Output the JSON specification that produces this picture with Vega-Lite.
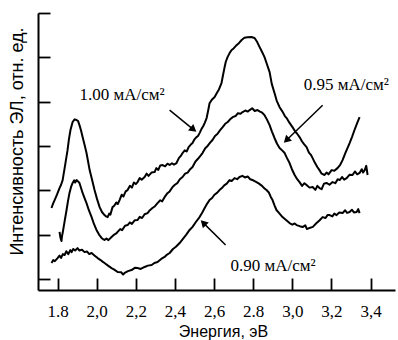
{
"$schema":"https://vega.github.io/schema/vega-lite/v6.json",
"width":357,"height":277,
"autosize":{"type":"none"},
"padding":{"left":38,"top":13,"right":3,"bottom":50},
"background":"white",
"config":{"view":{"stroke":null},"axis":{"grid":false}},
"datasets":{
"arrows":[{"a":"1.00","x":2.373,"y":8.12,"x2":2.495,"y2":7.24},{"a":"0.95","x":3.155,"y":8.34,"x2":2.970,"y2":6.76},{"a":"0.90","x":2.659,"y":2.03,"x2":2.545,"y2":3.03}],
"labels":[{"t":"1.00 мА/см²","x":1.912,"y":8.80},{"t":"0.95 мА/см²","x":3.058,"y":9.25},{"t":"0.90 мА/см²","x":2.684,"y":1.08}]
},
"data":{"values":[
{"s":"1.00","e":1.769,"i":3.70},{"s":"1.00","e":1.777,"i":3.90},{"s":"1.00","e":1.785,"i":4.06},{"s":"1.00","e":1.797,"i":4.30},{"s":"1.00","e":1.810,"i":4.60},{"s":"1.00","e":1.818,"i":4.75},{"s":"1.00","e":1.826,"i":4.96},{"s":"1.00","e":1.838,"i":5.60},{"s":"1.00","e":1.851,"i":6.31},{"s":"1.00","e":1.858,"i":6.80},{"s":"1.00","e":1.866,"i":7.22},{"s":"1.00","e":1.877,"i":7.58},{"s":"1.00","e":1.887,"i":7.70},{"s":"1.00","e":1.897,"i":7.67},{"s":"1.00","e":1.905,"i":7.62},{"s":"1.00","e":1.912,"i":7.44},{"s":"1.00","e":1.920,"i":7.20},{"s":"1.00","e":1.928,"i":6.90},{"s":"1.00","e":1.938,"i":6.55},{"s":"1.00","e":1.948,"i":6.18},{"s":"1.00","e":1.956,"i":5.80},{"s":"1.00","e":1.964,"i":5.41},{"s":"1.00","e":1.977,"i":4.95},{"s":"1.00","e":1.989,"i":4.51},{"s":"1.00","e":2.002,"i":4.10},{"s":"1.00","e":2.015,"i":3.74},{"s":"1.00","e":2.027,"i":3.52},{"s":"1.00","e":2.040,"i":3.38},{"s":"1.00","e":2.048,"i":3.32},{"s":"1.00","e":2.056,"i":3.29},{"s":"1.00","e":2.064,"i":3.45},{"s":"1.00","e":2.070,"i":3.40},{"s":"1.00","e":2.081,"i":3.74},{"s":"1.00","e":2.090,"i":3.80},{"s":"1.00","e":2.100,"i":3.95},{"s":"1.00","e":2.108,"i":3.88},{"s":"1.00","e":2.117,"i":4.06},{"s":"1.00","e":2.128,"i":4.30},{"s":"1.00","e":2.137,"i":4.22},{"s":"1.00","e":2.148,"i":4.45},{"s":"1.00","e":2.158,"i":4.51},{"s":"1.00","e":2.170,"i":4.70},{"s":"1.00","e":2.180,"i":4.62},{"s":"1.00","e":2.190,"i":4.85},{"s":"1.00","e":2.200,"i":4.78},{"s":"1.00","e":2.209,"i":4.87},{"s":"1.00","e":2.220,"i":5.05},{"s":"1.00","e":2.230,"i":4.98},{"s":"1.00","e":2.245,"i":5.10},{"s":"1.00","e":2.255,"i":5.25},{"s":"1.00","e":2.265,"i":5.15},{"s":"1.00","e":2.280,"i":5.30},{"s":"1.00","e":2.296,"i":5.32},{"s":"1.00","e":2.305,"i":5.50},{"s":"1.00","e":2.315,"i":5.42},{"s":"1.00","e":2.325,"i":5.62},{"s":"1.00","e":2.337,"i":5.64},{"s":"1.00","e":2.350,"i":5.58},{"s":"1.00","e":2.362,"i":5.70},{"s":"1.00","e":2.373,"i":5.64},{"s":"1.00","e":2.385,"i":5.72},{"s":"1.00","e":2.395,"i":5.66},{"s":"1.00","e":2.408,"i":5.73},{"s":"1.00","e":2.420,"i":5.95},{"s":"1.00","e":2.430,"i":6.05},{"s":"1.00","e":2.439,"i":6.18},{"s":"1.00","e":2.450,"i":6.30},{"s":"1.00","e":2.460,"i":6.25},{"s":"1.00","e":2.470,"i":6.45},{"s":"1.00","e":2.480,"i":6.55},{"s":"1.00","e":2.490,"i":6.63},{"s":"1.00","e":2.500,"i":6.80},{"s":"1.00","e":2.510,"i":6.90},{"s":"1.00","e":2.518,"i":6.95},{"s":"1.00","e":2.526,"i":7.08},{"s":"1.00","e":2.535,"i":7.25},{"s":"1.00","e":2.545,"i":7.40},{"s":"1.00","e":2.553,"i":7.55},{"s":"1.00","e":2.562,"i":7.76},{"s":"1.00","e":2.570,"i":8.10},{"s":"1.00","e":2.577,"i":8.43},{"s":"1.00","e":2.590,"i":8.60},{"s":"1.00","e":2.603,"i":8.71},{"s":"1.00","e":2.615,"i":8.90},{"s":"1.00","e":2.625,"i":9.05},{"s":"1.00","e":2.638,"i":9.34},{"s":"1.00","e":2.646,"i":9.70},{"s":"1.00","e":2.654,"i":10.06},{"s":"1.00","e":2.660,"i":10.30},{"s":"1.00","e":2.669,"i":10.51},{"s":"1.00","e":2.680,"i":10.70},{"s":"1.00","e":2.690,"i":10.83},{"s":"1.00","e":2.700,"i":10.90},{"s":"1.00","e":2.715,"i":11.05},{"s":"1.00","e":2.728,"i":11.15},{"s":"1.00","e":2.741,"i":11.28},{"s":"1.00","e":2.755,"i":11.38},{"s":"1.00","e":2.771,"i":11.41},{"s":"1.00","e":2.790,"i":11.42},{"s":"1.00","e":2.807,"i":11.37},{"s":"1.00","e":2.820,"i":11.20},{"s":"1.00","e":2.833,"i":10.96},{"s":"1.00","e":2.845,"i":10.75},{"s":"1.00","e":2.858,"i":10.51},{"s":"1.00","e":2.870,"i":10.20},{"s":"1.00","e":2.884,"i":9.83},{"s":"1.00","e":2.895,"i":9.30},{"s":"1.00","e":2.909,"i":8.89},{"s":"1.00","e":2.920,"i":8.55},{"s":"1.00","e":2.935,"i":8.25},{"s":"1.00","e":2.950,"i":8.05},{"s":"1.00","e":2.962,"i":7.85},{"s":"1.00","e":2.971,"i":7.76},{"s":"1.00","e":2.985,"i":7.55},{"s":"1.00","e":3.001,"i":7.35},{"s":"1.00","e":3.015,"i":7.15},{"s":"1.00","e":3.025,"i":7.05},{"s":"1.00","e":3.037,"i":6.90},{"s":"1.00","e":3.050,"i":6.70},{"s":"1.00","e":3.060,"i":6.58},{"s":"1.00","e":3.073,"i":6.45},{"s":"1.00","e":3.085,"i":6.20},{"s":"1.00","e":3.095,"i":6.10},{"s":"1.00","e":3.104,"i":5.95},{"s":"1.00","e":3.115,"i":5.75},{"s":"1.00","e":3.128,"i":5.55},{"s":"1.00","e":3.139,"i":5.41},{"s":"1.00","e":3.150,"i":5.25},{"s":"1.00","e":3.165,"i":5.19},{"s":"1.00","e":3.175,"i":5.30},{"s":"1.00","e":3.185,"i":5.22},{"s":"1.00","e":3.201,"i":5.41},{"s":"1.00","e":3.215,"i":5.38},{"s":"1.00","e":3.231,"i":5.50},{"s":"1.00","e":3.245,"i":5.65},{"s":"1.00","e":3.257,"i":5.86},{"s":"1.00","e":3.270,"i":6.15},{"s":"1.00","e":3.282,"i":6.40},{"s":"1.00","e":3.293,"i":6.63},{"s":"1.00","e":3.305,"i":6.90},{"s":"1.00","e":3.318,"i":7.22},{"s":"1.00","e":3.330,"i":7.50},{"s":"1.00","e":3.344,"i":7.80},
{"s":"0.95","e":1.810,"i":2.62},{"s":"0.95","e":1.815,"i":2.35},{"s":"0.95","e":1.820,"i":2.21},{"s":"0.95","e":1.823,"i":2.45},{"s":"0.95","e":1.826,"i":2.57},{"s":"0.95","e":1.836,"i":3.10},{"s":"0.95","e":1.846,"i":3.61},{"s":"0.95","e":1.853,"i":4.00},{"s":"0.95","e":1.861,"i":4.38},{"s":"0.95","e":1.869,"i":4.65},{"s":"0.95","e":1.877,"i":4.83},{"s":"0.95","e":1.885,"i":4.95},{"s":"0.95","e":1.890,"i":4.85},{"s":"0.95","e":1.897,"i":4.96},{"s":"0.95","e":1.905,"i":4.90},{"s":"0.95","e":1.912,"i":4.83},{"s":"0.95","e":1.920,"i":4.60},{"s":"0.95","e":1.928,"i":4.38},{"s":"0.95","e":1.938,"i":4.15},{"s":"0.95","e":1.948,"i":3.92},{"s":"0.95","e":1.960,"i":3.60},{"s":"0.95","e":1.974,"i":3.29},{"s":"0.95","e":1.986,"i":2.98},{"s":"0.95","e":1.999,"i":2.71},{"s":"0.95","e":2.012,"i":2.50},{"s":"0.95","e":2.025,"i":2.35},{"s":"0.95","e":2.032,"i":2.30},{"s":"0.95","e":2.040,"i":2.26},{"s":"0.95","e":2.050,"i":2.32},{"s":"0.95","e":2.060,"i":2.25},{"s":"0.95","e":2.076,"i":2.39},{"s":"0.95","e":2.090,"i":2.50},{"s":"0.95","e":2.100,"i":2.55},{"s":"0.95","e":2.107,"i":2.62},{"s":"0.95","e":2.120,"i":2.75},{"s":"0.95","e":2.130,"i":2.70},{"s":"0.95","e":2.145,"i":2.90},{"s":"0.95","e":2.158,"i":2.93},{"s":"0.95","e":2.170,"i":3.05},{"s":"0.95","e":2.180,"i":2.98},{"s":"0.95","e":2.195,"i":3.15},{"s":"0.95","e":2.209,"i":3.16},{"s":"0.95","e":2.220,"i":3.30},{"s":"0.95","e":2.232,"i":3.25},{"s":"0.95","e":2.245,"i":3.42},{"s":"0.95","e":2.260,"i":3.47},{"s":"0.95","e":2.272,"i":3.60},{"s":"0.95","e":2.285,"i":3.70},{"s":"0.95","e":2.298,"i":3.78},{"s":"0.95","e":2.311,"i":3.92},{"s":"0.95","e":2.325,"i":4.05},{"s":"0.95","e":2.335,"i":4.00},{"s":"0.95","e":2.347,"i":4.19},{"s":"0.95","e":2.360,"i":4.35},{"s":"0.95","e":2.373,"i":4.45},{"s":"0.95","e":2.388,"i":4.65},{"s":"0.95","e":2.400,"i":4.75},{"s":"0.95","e":2.412,"i":4.82},{"s":"0.95","e":2.425,"i":5.00},{"s":"0.95","e":2.439,"i":5.10},{"s":"0.95","e":2.452,"i":5.25},{"s":"0.95","e":2.465,"i":5.30},{"s":"0.95","e":2.478,"i":5.45},{"s":"0.95","e":2.490,"i":5.55},{"s":"0.95","e":2.505,"i":5.80},{"s":"0.95","e":2.518,"i":5.92},{"s":"0.95","e":2.530,"i":6.05},{"s":"0.95","e":2.541,"i":6.18},{"s":"0.95","e":2.555,"i":6.40},{"s":"0.95","e":2.567,"i":6.50},{"s":"0.95","e":2.580,"i":6.65},{"s":"0.95","e":2.592,"i":6.77},{"s":"0.95","e":2.605,"i":6.95},{"s":"0.95","e":2.618,"i":7.05},{"s":"0.95","e":2.630,"i":7.20},{"s":"0.95","e":2.644,"i":7.35},{"s":"0.95","e":2.657,"i":7.50},{"s":"0.95","e":2.670,"i":7.58},{"s":"0.95","e":2.682,"i":7.70},{"s":"0.95","e":2.695,"i":7.80},{"s":"0.95","e":2.710,"i":7.85},{"s":"0.95","e":2.722,"i":7.98},{"s":"0.95","e":2.735,"i":7.95},{"s":"0.95","e":2.746,"i":8.03},{"s":"0.95","e":2.760,"i":8.10},{"s":"0.95","e":2.772,"i":8.05},{"s":"0.95","e":2.782,"i":8.12},{"s":"0.95","e":2.795,"i":8.20},{"s":"0.95","e":2.808,"i":8.08},{"s":"0.95","e":2.822,"i":8.12},{"s":"0.95","e":2.835,"i":8.05},{"s":"0.95","e":2.846,"i":8.00},{"s":"0.95","e":2.858,"i":7.89},{"s":"0.95","e":2.870,"i":7.70},{"s":"0.95","e":2.884,"i":7.44},{"s":"0.95","e":2.896,"i":7.15},{"s":"0.95","e":2.909,"i":6.86},{"s":"0.95","e":2.922,"i":6.60},{"s":"0.95","e":2.935,"i":6.41},{"s":"0.95","e":2.948,"i":6.30},{"s":"0.95","e":2.961,"i":6.18},{"s":"0.95","e":2.973,"i":5.95},{"s":"0.95","e":2.986,"i":5.73},{"s":"0.95","e":2.998,"i":5.45},{"s":"0.95","e":3.012,"i":5.19},{"s":"0.95","e":3.025,"i":5.00},{"s":"0.95","e":3.037,"i":4.87},{"s":"0.95","e":3.050,"i":4.70},{"s":"0.95","e":3.062,"i":4.82},{"s":"0.95","e":3.073,"i":4.74},{"s":"0.95","e":3.088,"i":4.62},{"s":"0.95","e":3.104,"i":4.65},{"s":"0.95","e":3.118,"i":4.52},{"s":"0.95","e":3.128,"i":4.70},{"s":"0.95","e":3.139,"i":4.60},{"s":"0.95","e":3.150,"i":4.55},{"s":"0.95","e":3.162,"i":4.80},{"s":"0.95","e":3.175,"i":4.83},{"s":"0.95","e":3.190,"i":4.75},{"s":"0.95","e":3.206,"i":4.87},{"s":"0.95","e":3.220,"i":4.82},{"s":"0.95","e":3.232,"i":5.00},{"s":"0.95","e":3.242,"i":4.96},{"s":"0.95","e":3.255,"i":5.10},{"s":"0.95","e":3.265,"i":4.98},{"s":"0.95","e":3.278,"i":5.05},{"s":"0.95","e":3.292,"i":5.20},{"s":"0.95","e":3.308,"i":5.19},{"s":"0.95","e":3.320,"i":5.35},{"s":"0.95","e":3.332,"i":5.22},{"s":"0.95","e":3.344,"i":5.28},{"s":"0.95","e":3.355,"i":5.45},{"s":"0.95","e":3.362,"i":5.30},{"s":"0.95","e":3.370,"i":5.41},{"s":"0.95","e":3.378,"i":5.60},{"s":"0.95","e":3.385,"i":5.19},
{"s":"0.90","e":1.769,"i":1.22},{"s":"0.90","e":1.778,"i":1.35},{"s":"0.90","e":1.786,"i":1.30},{"s":"0.90","e":1.800,"i":1.44},{"s":"0.90","e":1.810,"i":1.55},{"s":"0.90","e":1.818,"i":1.45},{"s":"0.90","e":1.827,"i":1.62},{"s":"0.90","e":1.836,"i":1.58},{"s":"0.90","e":1.845,"i":1.75},{"s":"0.90","e":1.855,"i":1.62},{"s":"0.90","e":1.865,"i":1.80},{"s":"0.90","e":1.872,"i":1.71},{"s":"0.90","e":1.880,"i":1.85},{"s":"0.90","e":1.890,"i":1.78},{"s":"0.90","e":1.902,"i":1.89},{"s":"0.90","e":1.912,"i":1.78},{"s":"0.90","e":1.925,"i":1.82},{"s":"0.90","e":1.938,"i":1.71},{"s":"0.90","e":1.950,"i":1.74},{"s":"0.90","e":1.962,"i":1.62},{"s":"0.90","e":1.974,"i":1.67},{"s":"0.90","e":1.990,"i":1.55},{"s":"0.90","e":2.005,"i":1.44},{"s":"0.90","e":2.020,"i":1.35},{"s":"0.90","e":2.030,"i":1.28},{"s":"0.90","e":2.040,"i":1.22},{"s":"0.90","e":2.058,"i":1.10},{"s":"0.90","e":2.076,"i":0.99},{"s":"0.90","e":2.090,"i":0.92},{"s":"0.90","e":2.107,"i":0.81},{"s":"0.90","e":2.125,"i":0.80},{"s":"0.90","e":2.135,"i":0.70},{"s":"0.90","e":2.143,"i":0.77},{"s":"0.90","e":2.160,"i":0.85},{"s":"0.90","e":2.178,"i":0.90},{"s":"0.90","e":2.195,"i":1.00},{"s":"0.90","e":2.209,"i":0.99},{"s":"0.90","e":2.225,"i":0.95},{"s":"0.90","e":2.245,"i":1.04},{"s":"0.90","e":2.262,"i":1.10},{"s":"0.90","e":2.281,"i":1.13},{"s":"0.90","e":2.295,"i":1.22},{"s":"0.90","e":2.311,"i":1.26},{"s":"0.90","e":2.330,"i":1.40},{"s":"0.90","e":2.347,"i":1.49},{"s":"0.90","e":2.360,"i":1.60},{"s":"0.90","e":2.373,"i":1.67},{"s":"0.90","e":2.390,"i":1.85},{"s":"0.90","e":2.405,"i":1.95},{"s":"0.90","e":2.424,"i":2.12},{"s":"0.90","e":2.440,"i":2.30},{"s":"0.90","e":2.458,"i":2.50},{"s":"0.90","e":2.475,"i":2.71},{"s":"0.90","e":2.490,"i":2.85},{"s":"0.90","e":2.508,"i":3.08},{"s":"0.90","e":2.526,"i":3.29},{"s":"0.90","e":2.540,"i":3.50},{"s":"0.90","e":2.552,"i":3.70},{"s":"0.90","e":2.565,"i":3.90},{"s":"0.90","e":2.577,"i":4.06},{"s":"0.90","e":2.590,"i":4.15},{"s":"0.90","e":2.602,"i":4.30},{"s":"0.90","e":2.615,"i":4.38},{"s":"0.90","e":2.628,"i":4.51},{"s":"0.90","e":2.640,"i":4.60},{"s":"0.90","e":2.652,"i":4.72},{"s":"0.90","e":2.665,"i":4.80},{"s":"0.90","e":2.679,"i":4.96},{"s":"0.90","e":2.690,"i":4.92},{"s":"0.90","e":2.705,"i":5.05},{"s":"0.90","e":2.718,"i":5.00},{"s":"0.90","e":2.730,"i":5.10},{"s":"0.90","e":2.745,"i":5.15},{"s":"0.90","e":2.758,"i":5.08},{"s":"0.90","e":2.772,"i":5.12},{"s":"0.90","e":2.785,"i":5.00},{"s":"0.90","e":2.800,"i":4.95},{"s":"0.90","e":2.817,"i":4.87},{"s":"0.90","e":2.830,"i":4.80},{"s":"0.90","e":2.845,"i":4.70},{"s":"0.90","e":2.858,"i":4.58},{"s":"0.90","e":2.868,"i":4.51},{"s":"0.90","e":2.880,"i":4.40},{"s":"0.90","e":2.890,"i":4.20},{"s":"0.90","e":2.899,"i":4.06},{"s":"0.90","e":2.909,"i":3.82},{"s":"0.90","e":2.919,"i":3.61},{"s":"0.90","e":2.935,"i":3.45},{"s":"0.90","e":2.950,"i":3.29},{"s":"0.90","e":2.965,"i":3.18},{"s":"0.90","e":2.986,"i":3.02},{"s":"0.90","e":3.000,"i":2.95},{"s":"0.90","e":3.012,"i":3.00},{"s":"0.90","e":3.022,"i":2.93},{"s":"0.90","e":3.038,"i":2.88},{"s":"0.90","e":3.053,"i":2.84},{"s":"0.90","e":3.066,"i":2.92},{"s":"0.90","e":3.075,"i":2.75},{"s":"0.90","e":3.088,"i":2.80},{"s":"0.90","e":3.105,"i":2.85},{"s":"0.90","e":3.124,"i":3.02},{"s":"0.90","e":3.140,"i":3.15},{"s":"0.90","e":3.155,"i":3.29},{"s":"0.90","e":3.170,"i":3.25},{"s":"0.90","e":3.180,"i":3.38},{"s":"0.90","e":3.191,"i":3.38},{"s":"0.90","e":3.205,"i":3.32},{"s":"0.90","e":3.215,"i":3.45},{"s":"0.90","e":3.226,"i":3.38},{"s":"0.90","e":3.240,"i":3.50},{"s":"0.90","e":3.257,"i":3.47},{"s":"0.90","e":3.270,"i":3.60},{"s":"0.90","e":3.280,"i":3.48},{"s":"0.90","e":3.293,"i":3.52},{"s":"0.90","e":3.305,"i":3.62},{"s":"0.90","e":3.315,"i":3.50},{"s":"0.90","e":3.329,"i":3.52},{"s":"0.90","e":3.337,"i":3.65},{"s":"0.90","e":3.344,"i":3.47}
]},
"layer":[
{"mark":{"type":"line","color":"black","strokeWidth":2,"strokeJoin":"round"},
 "encoding":{
  "x":{"field":"e","type":"quantitative","scale":{"domain":[1.7,3.525],"nice":false,"zero":false},
   "axis":{"orient":"bottom","title":"Энергия, эВ","values":[1.8,1.9,2.0,2.1,2.2,2.3,2.4,2.5,2.6,2.7,2.8,2.9,3.0,3.1,3.2,3.3,3.4,3.5],
    "labelExpr":"round(datum.value*10)%2==1 ? '' : (round(datum.value*10)==18 ? '1.8' : (round(datum.value*10)==28 ? '2.8' : replace(format(datum.value,'.1f'),'.',',')))",
    "tickSize":{"condition":{"test":"round(datum.value*10)%2==0","value":-12},"value":-6},
    "tickWidth":1.8,"tickColor":"black","domainColor":"black","domainWidth":2,
    "labelFont":"Liberation Serif","labelFontSize":17,"labelColor":"black","labelPadding":25,"labelFlush":false,"labelOverlap":false,
    "titleFont":"Liberation Sans","titleFontSize":16,"titleFontWeight":"normal","titleColor":"black","titleX":185,"titleY":41,"titleBaseline":"middle"}},
  "y":{"field":"i","type":"quantitative","scale":{"domain":[0,12.5],"nice":false,"zero":false},
   "axis":{"orient":"left","title":"Интенсивность ЭЛ, отн. ед.","values":[0.5,1.5,2.5,3.5,4.5,5.5,6.5,7.5,8.5,9.5,10.5,11.5,12.5],"labels":false,
    "tickSize":{"condition":{"test":"floor(datum.value)%2==0","value":-12},"value":-6},
    "tickWidth":1.8,"tickColor":"black","domainColor":"black","domainWidth":2,
    "titleFont":"Liberation Sans","titleFontSize":18,"titleFontWeight":"normal","titleColor":"black","titleX":-21,"titleY":128,"titleBaseline":"middle","titleAngle":-90,"titleAlign":"center"}},
  "detail":{"field":"s"}
 }},
{"data":{"name":"arrows"},"mark":{"type":"rule","color":"black","strokeWidth":1.5},
 "encoding":{"x":{"field":"x","type":"quantitative"},"y":{"field":"y","type":"quantitative"},"x2":{"field":"x2"},"y2":{"field":"y2"}}},
{"data":{"name":"arrows"},"transform":[{"filter":"datum.a=='1.00'"}],"mark":{"type":"point","shape":"triangle-up","filled":true,"color":"black","opacity":1,"size":70,"angle":129},
 "encoding":{"x":{"field":"x2","type":"quantitative"},"y":{"field":"y2","type":"quantitative"}}},
{"data":{"name":"arrows"},"transform":[{"filter":"datum.a=='0.95'"}],"mark":{"type":"point","shape":"triangle-up","filled":true,"color":"black","opacity":1,"size":70,"angle":226},
 "encoding":{"x":{"field":"x2","type":"quantitative"},"y":{"field":"y2","type":"quantitative"}}},
{"data":{"name":"arrows"},"transform":[{"filter":"datum.a=='0.90'"}],"mark":{"type":"point","shape":"triangle-up","filled":true,"color":"black","opacity":1,"size":70,"angle":315},
 "encoding":{"x":{"field":"x2","type":"quantitative"},"y":{"field":"y2","type":"quantitative"}}},
{"data":{"name":"labels"},"mark":{"type":"text","font":"Liberation Serif","fontSize":17,"align":"left","baseline":"middle","color":"black"},
 "encoding":{"x":{"field":"x","type":"quantitative"},"y":{"field":"y","type":"quantitative"},"text":{"field":"t"}}}
]
}
